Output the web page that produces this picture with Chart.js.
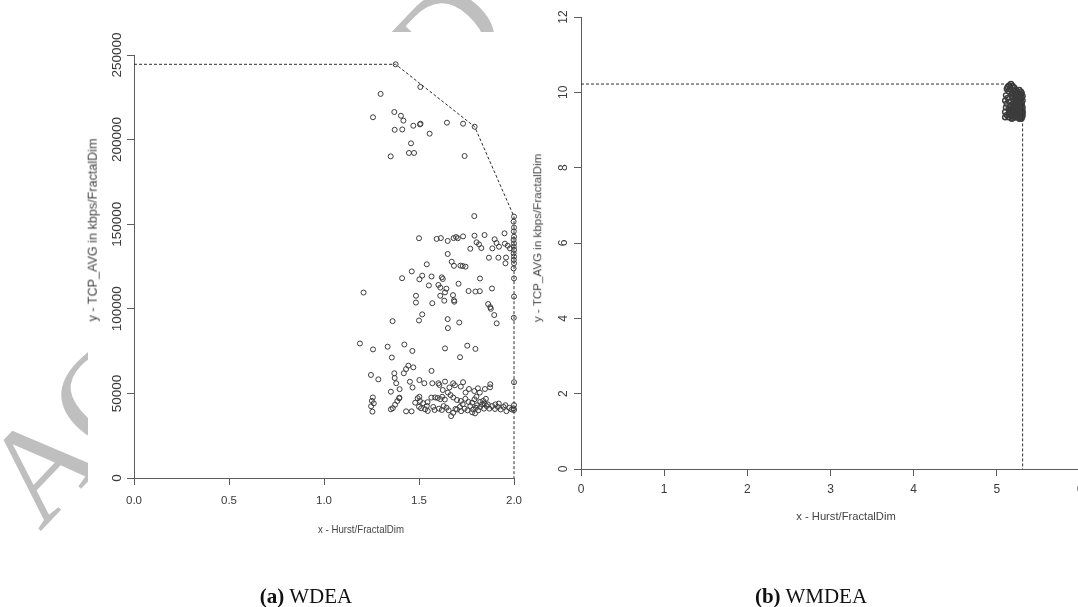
<!DOCTYPE html>
<html>
<head>
<meta charset="utf-8">
<script src="https://cdn.jsdelivr.net/npm/chart.js@4.4.1/dist/chart.umd.min.js"></script>
<style>
  html, body { margin: 0; padding: 0; width: 1078px; height: 607px; overflow: hidden; background: #fff; }
  .mark {
    position: absolute; left: 40px; top: 418px;
    font: 136px/136px 'Liberation Serif', serif; color: #bfbfbf; letter-spacing: -2px;
    white-space: nowrap; transform-origin: 0 114px; transform: rotate(-46.5deg);
  }
  canvas { position: absolute; background: #fff; }
  #wdea { left: 88px; top: 32px; }
  #wmdea { left: 496px; top: 0; }
  .lbl { position: absolute; white-space: nowrap; color: #444; font-family: 'Liberation Sans', Arial, sans-serif; line-height: 1; }
  .ytitle { transform: translate(-50%, -50%) rotate(-90deg); }
  .xtitle { transform: translate(-50%, -50%); }
  .narrow { transform: translate(-50%, -50%) scaleX(0.82); }
  .cap { position: absolute; top: 586px; font: 21px/21px 'Liberation Serif', 'Times New Roman', serif; color: #111; transform: translateX(-50%); white-space: nowrap; }
</style>
</head>
<body>
<div class="mark">ACCEPTED MANUSCRIPT</div>
<!-- right panel first: the left panel is stacked over its left margin -->
<canvas id="wmdea" width="604" height="560"></canvas>
<canvas id="wdea" width="452" height="528"></canvas>

<div class="lbl ytitle" style="left:93px; top:230px; font-size:12.6px;">y - TCP_AVG in kbps/FractalDim</div>
<div class="lbl narrow" style="left:361px; top:530px; font-size:11.8px;">x - Hurst/FractalDim</div>
<div class="lbl ytitle" style="left:537px; top:238px; font-size:11.6px;">y - TCP_AVG in kbps/FractalDim</div>
<div class="lbl xtitle" style="left:846px; top:517px; font-size:11.2px;">x - Hurst/FractalDim</div>

<div class="cap" style="left:306px;"><b>(a)</b> WDEA</div>
<div class="cap" style="left:811px;"><b>(b)</b> WMDEA</div>

<script>
// (a) WDEA: TCP_AVG (kbps/FractalDim) against Hurst/FractalDim
const wdeaX = [
  1.377, 1.507, 1.298, 1.258, 1.370, 1.405, 1.418, 1.372, 1.412, 1.470, 1.505, 1.508, 1.556, 1.647, 1.732, 1.793, 1.458, 1.447, 1.474, 1.351, 1.740,
  2.000, 1.998, 2.000, 1.999, 2.000, 1.998, 2.000, 1.999, 2.000, 1.998, 2.000, 1.999, 2.000, 1.998, 2.000, 2.000, 1.999, 2.000, 2.000, 1.998, 2.000,
  1.791, 1.500, 1.593, 1.615, 1.651, 1.682, 1.695, 1.704, 1.732, 1.792, 1.845, 1.898, 1.950, 1.770, 1.803, 1.816, 1.828, 1.886, 1.908, 1.921,
  1.952, 1.967, 1.979, 1.651, 1.868, 1.918, 1.958, 1.955, 1.672, 1.684, 1.718, 1.730, 1.745, 1.541, 1.462, 1.411, 1.502, 1.517, 1.566, 1.620,
  1.625, 1.821, 1.552, 1.602, 1.612, 1.644, 1.637, 1.708, 1.761, 1.797, 1.820, 1.884, 1.208, 1.484, 1.484, 1.612, 1.570, 1.679, 1.684, 1.686,
  1.633, 1.864, 1.875, 1.878, 1.517, 1.500, 1.896, 1.909, 1.361, 1.651, 1.652, 1.712,
  1.189, 1.258, 1.335, 1.357, 1.423, 1.465, 1.637, 1.716, 1.754, 1.797, 1.247, 1.286, 1.370, 1.372, 1.380, 1.352, 1.398, 1.397, 1.420, 1.432,
  1.444, 1.470, 1.466, 1.452, 1.502, 1.528, 1.566, 1.570, 1.602, 1.607, 1.637, 1.680, 1.689, 1.732, 1.763, 1.791, 1.847, 1.875, 1.874, 1.502,
  1.257, 1.252, 1.262, 1.248, 1.255, 1.396, 1.386, 1.374, 1.362, 1.352, 1.432, 1.461, 1.493, 1.511, 1.532, 1.546, 1.500, 1.522, 1.541, 1.565,
  1.585, 1.598, 1.612, 1.575, 1.622, 1.636, 1.652, 1.666, 1.680, 1.700, 1.720, 1.744, 1.760, 1.780, 1.792, 1.802, 1.806, 1.838, 1.846, 1.852,
  1.862, 1.605, 1.620, 1.630, 1.645, 1.656, 1.669, 1.680, 1.700, 1.715, 1.730, 1.740, 1.755, 1.770, 1.785, 1.795, 1.800, 1.812, 1.822, 1.832,
  1.842, 1.856, 1.870, 1.885, 1.900, 1.915, 1.930, 1.945, 1.960, 1.975, 1.988, 1.902, 1.920, 1.955, 1.822, 1.780, 1.722, 1.692, 1.582, 1.545,
  1.480, 1.505, 1.810, 1.820, 1.660, 1.625, 1.720, 1.745
];
const wdeaY = [
  244500, 231100, 227000, 213200, 216300, 214100, 211200, 205800, 206000, 208200, 209000, 209400, 203500, 210000, 209400, 207600, 197800, 192100, 192100, 190100, 190300,
  154500, 151500, 148000, 145700, 142600, 140700, 138700, 136700, 134800, 132800, 130800, 128900, 126900, 123900, 118000, 107200, 94700, 56600, 43100, 41200, 40200,
  154800, 141700, 141300, 141800, 140100, 141800, 142400, 141700, 142800, 143200, 143600, 141100, 144600, 135500, 139300, 138100, 135900, 135700, 138900, 136700,
  138500, 137300, 135700, 132400, 130200, 130200, 130300, 126900, 127800, 125400, 125500, 125300, 124900, 126300, 122100, 118100, 117400, 119600, 119100, 118600,
  117600, 117900, 113800, 114100, 112500, 111900, 109700, 114800, 110500, 110200, 110400, 112000, 109600, 107700, 103700, 107700, 103300, 108100, 105000, 104200,
  104800, 102800, 101000, 100000, 96700, 93100, 96300, 91400, 92700, 93900, 88600, 91900,
  79500, 76000, 77600, 71200, 78900, 75100, 76600, 71400, 78200, 76300, 60900, 58300, 61900, 59100, 56000, 51000, 52500, 47500, 61900, 64400,
  66400, 65400, 53500, 56900, 57900, 56000, 63300, 56000, 56000, 55000, 57000, 56000, 54800, 56600, 52600, 51400, 52600, 55400, 53600, 48000,
  47600, 45600, 44100, 42400, 39200, 47100, 45500, 43300, 41300, 40600, 39400, 39400, 47100, 41200, 40600, 39600, 42100, 44200, 42600, 47500,
  47600, 47300, 46600, 42000, 48000, 46400, 50500, 49000, 47600, 46100, 45500, 46800, 45000, 44500, 46500, 48000, 43000, 45600, 44000, 46800,
  43500, 41000, 40200, 42500, 41500, 40000, 36600, 38500, 40500, 42000, 43600, 41000, 40000, 42500, 40500, 38200, 41500, 40000, 42000, 43500,
  41000, 42500, 41000, 42500, 40800, 42000, 40500, 42000, 39500, 41500, 40500, 43500, 44000, 43000, 45000, 38800, 39500, 40800, 40200, 44800,
  44500, 45500, 53000, 50500, 53500, 52000, 54000, 50500
];
const wdeaFrontX = [0, 1.377, 1.793, 2.0, 2.0];
const wdeaFrontY = [244500, 244500, 207600, 154500, 0];
const wdeaXTicks = [0, 0.5, 1, 1.5, 2];
const wdeaYTicks = [0, 50000, 100000, 150000, 200000, 250000];

// (b) WMDEA
const wmdeaX = [
  5.17, 5.15, 5.13, 5.19, 5.21, 5.12, 5.16, 5.20, 5.14, 5.23, 5.27, 5.29, 5.30, 5.28, 5.31, 5.25, 5.22, 5.18, 5.11, 5.13,
  5.10, 5.12, 5.15, 5.19, 5.23, 5.26, 5.29, 5.31, 5.27, 5.24, 5.20, 5.17, 5.21, 5.25, 5.29, 5.31, 5.11, 5.14, 5.10, 5.12,
  5.10, 5.15, 5.18, 5.22, 5.26, 5.29, 5.31, 5.28, 5.24, 5.20, 5.17, 5.14, 5.22, 5.26, 5.30, 5.31, 5.27, 5.19, 5.16, 5.23,
  5.27, 5.30, 5.24, 5.28, 5.21, 5.18, 5.25, 5.29, 5.23, 5.20,
  5.19, 5.21, 5.23, 5.25, 5.27, 5.29, 5.20, 5.22, 5.24, 5.26, 5.28, 5.30, 5.19, 5.21, 5.23, 5.25, 5.27, 5.29, 5.18, 5.20,
  5.22, 5.24, 5.26, 5.28, 5.30, 5.17, 5.19, 5.21, 5.23, 5.25, 5.27, 5.29, 5.31, 5.16, 5.18, 5.22, 5.24, 5.28, 5.30, 5.26,
  5.22, 5.20, 5.24, 5.28, 5.30, 5.25, 5.27, 5.23
];
const wmdeaY = [
  10.22, 10.18, 10.14, 10.17, 10.12, 10.09, 10.08, 10.05, 10.03, 10.07, 10.06, 10.02, 9.98, 9.94, 9.90, 9.98, 9.95, 9.97, 9.92, 9.85,
  9.78, 9.70, 9.75, 9.88, 9.85, 9.88, 9.84, 9.78, 9.76, 9.72, 9.78, 9.66, 9.65, 9.62, 9.66, 9.60, 9.60, 9.55, 9.48, 9.40,
  9.34, 9.45, 9.52, 9.55, 9.50, 9.52, 9.45, 9.42, 9.40, 9.42, 9.38, 9.34, 9.33, 9.35, 9.32, 9.38, 9.30, 9.60, 9.62, 9.68,
  9.70, 9.72, 9.45, 9.58, 9.48, 9.44, 9.55, 9.36, 9.37, 9.35,
  9.90, 9.92, 9.80, 9.82, 9.90, 9.95, 9.70, 9.74, 9.78, 9.66, 9.80, 9.86, 9.50, 9.58, 9.62, 9.46, 9.55, 9.48, 9.42, 9.45,
  9.50, 9.35, 9.42, 9.46, 9.40, 9.48, 9.32, 9.40, 9.44, 9.38, 9.34, 9.30, 9.50, 9.52, 9.30, 9.60, 9.52, 9.62, 9.55, 9.44,
  9.58, 9.66, 9.64, 9.33, 9.68, 9.90, 9.95, 10.00
];
const wmdeaFrontX = [0, 5.17, 5.23, 5.29, 5.31, 5.31];
const wmdeaFrontY = [10.22, 10.22, 10.07, 10.02, 9.90, 0];
const wmdeaXTicks = [0, 1, 2, 3, 4, 5, 6];
const wmdeaYTicks = [0, 2, 4, 6, 8, 10, 12];

const ink = '#3a3a3a';
const axisInk = '#5c5c5c';

function scatterPanel(id, xs, ys, fx, fy, xTicks, yTicks, o) {
  const points = xs.map((x, i) => ({ x: x, y: ys[i] }));
  const frontier = fx.map((x, i) => ({ x: x, y: fy[i] }));
  return new Chart(document.getElementById(id), {
    type: 'scatter',
    data: {
      datasets: [
        { data: frontier, showLine: true, borderColor: '#2e2e2e', borderWidth: 1, borderDash: [3, 2],
          pointRadius: 0, clip: false },
        { data: points, pointStyle: 'circle', pointRadius: 2.5, borderWidth: o.ring, borderColor: '#3c3c3c',
          backgroundColor: 'rgba(0,0,0,0)', clip: false }
      ]
    },
    options: {
      responsive: false,
      animation: false,
      events: [],
      layout: { padding: o.padding },
      plugins: { legend: { display: false }, tooltip: { enabled: false } },
      scales: {
        x: {
          type: 'linear', min: xTicks[0], max: xTicks[xTicks.length - 1],
          afterBuildTicks: s => { s.ticks = xTicks.map(v => ({ value: v })); },
          afterFit: s => { s.height = o.xHeight; },
          grid: { drawOnChartArea: false, tickLength: 7, color: axisInk, tickColor: axisInk },
          border: { color: axisInk, width: 1 },
          ticks: { color: ink, font: o.xFont, padding: o.xPad, autoSkip: false, maxRotation: 0, callback: o.xFmt }
        },
        y: {
          type: 'linear', min: yTicks[0], max: yTicks[yTicks.length - 1],
          afterBuildTicks: s => { s.ticks = yTicks.map(v => ({ value: v })); },
          afterFit: s => { s.width = o.yWidth; },
          grid: { drawOnChartArea: false, tickLength: 7, color: axisInk, tickColor: axisInk },
          border: { color: axisInk, width: 1 },
          ticks: { color: ink, font: o.yFont, padding: o.yPad, autoSkip: false, minRotation: 90, maxRotation: 90,
                   crossAlign: 'center', callback: v => String(v) }
        }
      }
    }
  });
}

scatterPanel('wdea', wdeaX, wdeaY, wdeaFrontX, wdeaFrontY, wdeaXTicks, wdeaYTicks, {
  padding: { left: 0, top: 23, right: 26, bottom: 0 },
  yWidth: 46, xHeight: 82, ring: 1,
  xFont: { family: "'Liberation Sans', sans-serif", size: 11.5 },
  yFont: { family: "'Liberation Sans', sans-serif", size: 13.5 },
  xPad: 9, yPad: -13,
  xFmt: v => v.toFixed(1)
});

// canvas starts at 496px, so the plot's left edge (581px) sits 85px in
scatterPanel('wmdea', wmdeaX, wmdeaY, wmdeaFrontX, wmdeaFrontY, wmdeaXTicks, wmdeaYTicks, {
  padding: { left: 0, top: 17, right: 20, bottom: 0 },
  yWidth: 85, xHeight: 91, ring: 1.4,
  xFont: { family: "'Liberation Sans', sans-serif", size: 12 },
  yFont: { family: "'Liberation Sans', sans-serif", size: 12 },
  xPad: 6, yPad: 4,
  xFmt: v => String(v)
});
</script>
</body>
</html>
